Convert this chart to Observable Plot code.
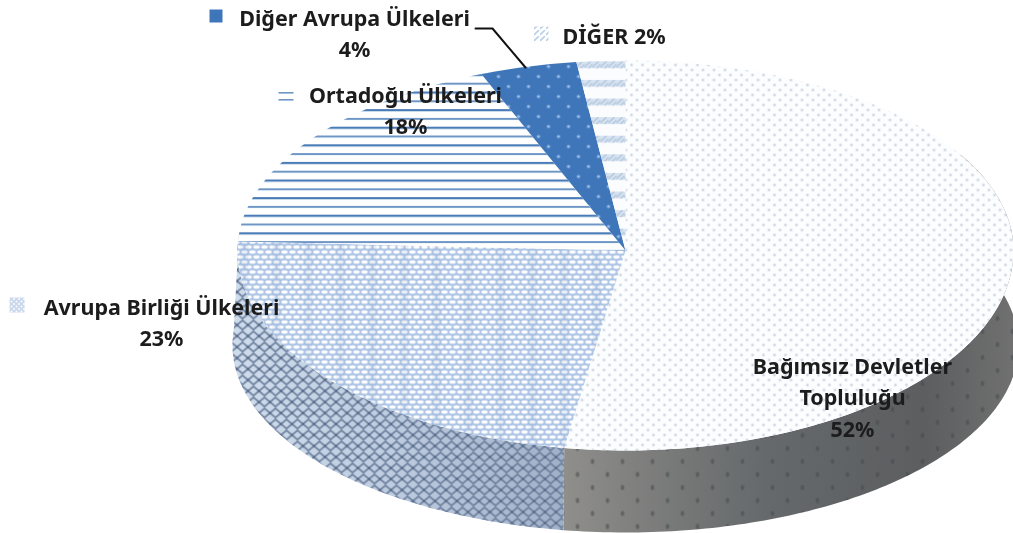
<!DOCTYPE html>
<html>
<head>
<meta charset="utf-8">
<script src="https://cdn.jsdelivr.net/npm/d3@7"></script>
<script src="https://cdn.jsdelivr.net/npm/@observablehq/plot@0.6"></script>
<style>
html,body{margin:0;padding:0;background:#fff}
svg{display:block;filter:blur(.7px)}
</style>
</head>
<body>
<div id="chart"></div>
<script>
// Data, as printed on the slices (clockwise from 12 o'clock)
const categories = ["Bağımsız Devletler\nTopluluğu", "Avrupa Birliği Ülkeleri", "Ortadoğu Ülkeleri", "Diğer Avrupa Ülkeleri", "DİĞER"];
const shares = [52, 23, 18, 4, 2];

// Styling and layout
const fills = ["url(#pBDT)", "url(#pAB)", "url(#pOrta)", "url(#pDA)", "url(#pDiger)"];
const sideFills = [["url(#gSide)", "url(#pSideDots)"], ["url(#gSideBlue)", "url(#pSideLattice)"]];
const labelPos = [[852, 395, "middle"], [161, 320, "middle"], [405, 108, "middle"], [354, 31, "middle"], [562, 34, "start"]];
const keyPos = [null, [17, 305], [286, 95], [216, 16], [541, 34]];
const cx = 625, cy = 250, rx = 388, ryBack = 190, ryFront = 200;
const bCy = 345, bRx = 393, bRy = 187;
const FONT = "'Noto Sans', sans-serif";

const total = d3.sum(shares);
const cum = d3.cumsum(shares).map(v => v / total * 360);
const rad = d => d * Math.PI / 180;
const topPt = t => { const c = Math.cos(rad(t)); return {x: cx + rx * Math.sin(rad(t)), y: cy - (c > 0 ? ryBack : ryFront) * c}; };
const botPt = t => ({x: cx + bRx * Math.sin(rad(t)), y: bCy - bRy * Math.cos(rad(t))});
const arc = (a, b, f) => { const n = Math.max(2, Math.ceil(Math.abs(b - a))); return d3.range(n + 1).map(i => f(a + (b - a) * i / n)); };

const slices = shares.map((_, i) => {
  const a = i ? cum[i - 1] : 0, b = cum[i];
  return [{x: cx, y: cy}, ...arc(a, b, topPt)];
});
const wall = (a, b) => [...arc(a, b, topPt), ...arc(b, a, botPt)];
const sideBDT = wall(60, cum[0]);
const sideAB = wall(cum[0], cum[1] + 2);

const defsInner = `
<linearGradient id="gSide" gradientUnits="userSpaceOnUse" x1="565" x2="1013" y1="0" y2="0">
 <stop offset="0" stop-color="#8f8e8b"/><stop offset=".2" stop-color="#7b7c7b"/><stop offset=".45" stop-color="#65696b"/><stop offset=".8" stop-color="#5c5e5f"/><stop offset="1" stop-color="#707070"/>
</linearGradient>
<linearGradient id="gSideBlue" gradientUnits="userSpaceOnUse" x1="232" x2="565" y1="0" y2="0">
 <stop offset="0" stop-color="#cfdcec"/><stop offset=".5" stop-color="#bccbdf"/><stop offset="1" stop-color="#a0b0c8"/>
</linearGradient>
<pattern id="pSideDots" patternUnits="userSpaceOnUse" width="30" height="26">
 <ellipse cx="7" cy="6" rx="1.8" ry="2.8" fill="#44484b" opacity=".55"/><ellipse cx="22" cy="19" rx="1.8" ry="2.8" fill="#44484b" opacity=".55"/>
</pattern>
<pattern id="pSideLattice" patternUnits="userSpaceOnUse" width="11" height="11">
 <path d="M-1 0 L12 11 M-1 11 L12 0" stroke="#6a7d9a" stroke-width="1.6" fill="none"/>
 <circle cx="5.5" cy="5.5" r="1.3" fill="#566a88"/>
</pattern>
<pattern id="pBDT" patternUnits="userSpaceOnUse" width="11" height="10" x="1" y="2">
 <rect width="11" height="10" fill="#fcfdfe"/>
 <circle cx="3" cy="2.5" r="1.3" fill="#c6d0dc"/><circle cx="8.5" cy="7.5" r="1.3" fill="#c6d0dc"/>
</pattern>
<pattern id="pAB" patternUnits="userSpaceOnUse" width="32" height="10" x="12" y="4">
 <rect width="32" height="10" fill="#aac2e4"/>
 <g fill="#fff">
 <ellipse cx="4" cy="2.5" rx="3.3" ry="1.8"/><ellipse cx="12" cy="2.5" rx="3.3" ry="1.8"/><ellipse cx="20" cy="2.5" rx="3.3" ry="1.8"/><ellipse cx="28" cy="2.5" rx="3.3" ry="1.8"/>
 <ellipse cx="0" cy="7.5" rx="3.3" ry="1.8"/><ellipse cx="8" cy="7.5" rx="3.3" ry="1.8"/><ellipse cx="16" cy="7.5" rx="3.3" ry="1.8"/><ellipse cx="24" cy="7.5" rx="3.3" ry="1.8"/><ellipse cx="32" cy="7.5" rx="3.3" ry="1.8"/>
 </g>
 <rect x="4" width="8" height="10" fill="#6f93c6" opacity=".14"/>
</pattern>
<pattern id="pOrta" patternUnits="userSpaceOnUse" width="10" height="17.6" y="3">
 <rect width="10" height="17.6" fill="#fff"/>
 <rect y="0" width="10" height="2.2" fill="#4a7db8"/><rect y="8.8" width="10" height="2" fill="#6f97c6"/>
</pattern>
<pattern id="pDA" patternUnits="userSpaceOnUse" width="20" height="20" x="3" y="1">
 <rect width="20" height="20" fill="#3f76b9"/>
 <circle cx="5" cy="5" r="1.6" fill="#9cc3ee"/><circle cx="15" cy="15" r="1.6" fill="#9cc3ee"/>
</pattern>
<pattern id="pDiger" patternUnits="userSpaceOnUse" width="8" height="18.6" y="5">
 <rect width="8" height="18.6" fill="#fbfcfe"/>
 <rect y="0" width="8" height="7" fill="#d8e3f0"/>
 <path d="M0 6 L6 0 M4 7 L8 3" stroke="#a9c1dc" stroke-width="1.2"/>
</pattern>
<pattern id="pKeyAB" patternUnits="userSpaceOnUse" width="5" height="5">
 <rect width="5" height="5" fill="#c9d8ec"/><circle cx="1.5" cy="1.5" r="1" fill="#fff"/><circle cx="4" cy="4" r="1" fill="#fff"/>
</pattern>
<pattern id="pKeyOrta" patternUnits="userSpaceOnUse" width="6" height="7" y="91">
 <rect width="6" height="7" fill="#fff"/><rect y="1" width="6" height="1.6" fill="#6f97c6"/>
</pattern>
<pattern id="pKeyDiger" patternUnits="userSpaceOnUse" width="6" height="6">
 <rect width="6" height="6" fill="#fff"/><path d="M0 5 L5 0" stroke="#b9cde4" stroke-width="1.6"/>
</pattern>`;
const defsMark = () => {
  const d = document.createElementNS("http://www.w3.org/2000/svg", "defs");
  d.innerHTML = defsInner;
  return d;
};

const poly = (pts, fill) => Plot.line(pts, {x: "x", y: "y", fill, stroke: "none"});

const labels = categories.map((c, i) => ({
  text: (i === 4 ? `${c} ${shares[i]}%` : `${c}\n${shares[i]}%`),
  x: labelPos[i][0], y: labelPos[i][1], anchor: labelPos[i][2]
}));
const keyFills = [null, "url(#pKeyAB)", "url(#pKeyOrta)", "#3f76b9", "url(#pKeyDiger)"];
const keys = keyPos.map((p, i) => p && ({x: p[0], y: p[1], fill: keyFills[i], size: i === 3 ? 13 : 15})).filter(Boolean);

const chart = Plot.plot({
  width: 1013, height: 533,
  margin: 0,
  x: {domain: [0, 1013], range: [0, 1013], axis: null},
  y: {domain: [0, 533], range: [0, 533], axis: null},
  style: {background: "#fff"},
  marks: [
    defsMark,
    poly(sideBDT, sideFills[0][0]),
    poly(sideBDT, sideFills[0][1]),
    poly(sideAB, sideFills[1][0]),
    poly(sideAB, sideFills[1][1]),
    ...slices.map((s, i) => poly(s, fills[i])),
    ...keys.map(k => Plot.rect([k], {x1: d => d.x - d.size / 2, x2: d => d.x + d.size / 2, y1: d => d.y - d.size / 2, y2: d => d.y + d.size / 2, fill: k.fill})),
    Plot.line([{x: 475, y: 28}, {x: 492, y: 28}, {x: 525, y: 67}], {x: "x", y: "y", stroke: "#111", strokeWidth: 2}),
    ...["middle", "start"].map(a => Plot.text(labels.filter(l => l.anchor === a), {
      x: "x", y: "y", text: "text", textAnchor: a, lineAnchor: "middle",
      lineHeight: 1.45, fontFamily: FONT, fontWeight: 700, fontSize: 21.5, fill: "#1c1c1c"
    }))
  ]
});
document.getElementById("chart").append(chart);
</script>
</body>
</html>
